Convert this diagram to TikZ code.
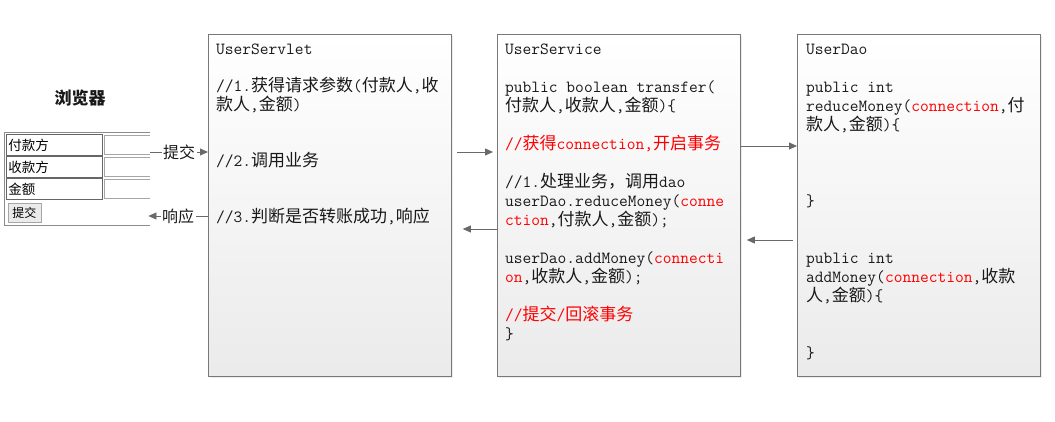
\documentclass[tikz,border=0pt]{standalone}
\usepackage{fontspec}
\usepackage{tikz}
\usetikzlibrary{arrows.meta,shadows}

\newfontfamily\cjk{Noto Sans CJK SC}
\newcommand\zh[1]{{\cjk #1}}
\newcommand\tightlines{\setlength{\lineskiplimit}{-30pt}}

\definecolor{boxline}{RGB}{120,120,120}
\definecolor{arrowgray}{RGB}{105,105,105}
\definecolor{txt}{RGB}{25,25,25}
\definecolor{codered}{RGB}{255,0,0}

\tikzset{
  box/.style={draw=boxline, line width=0.8pt, top color=white, bottom color=black!8,
    anchor=north west, minimum width=243pt, minimum height=342pt, inner sep=0pt,
    drop shadow={shadow xshift=2pt, shadow yshift=-2pt, opacity=0.25, fill=black!30}},
  code/.style={anchor=north west, align=left, inner sep=0pt, text=txt,
    font=\fontsize{17}{19}\selectfont\ttfamily\tightlines},
  flow/.style={draw=arrowgray, line width=0.8pt, -{Triangle[length=8pt,width=7pt]}},
  flowlabel/.style={fill=white, inner xsep=1.5pt, inner ysep=0pt, text=txt,
    font=\fontsize{16}{18}\selectfont\cjk},
  cell/.style={draw=black!60, line width=0.6pt, anchor=north west, text width=92pt,
    align=left, inner xsep=2pt, minimum height=21pt, text=black,
    font=\fontsize{13.5}{15}\selectfont\cjk},
  input/.style={draw=black!35, line width=0.8pt, fill=white},
  button/.style={draw=black!35, fill=black!8, line width=0.6pt, minimum width=33pt,
    minimum height=19pt, inner sep=0pt, text=black, font=\fontsize{12}{14}\selectfont\cjk}
}
\newcommand\red[1]{\textcolor{codered}{#1}}

\begin{document}
\begin{tikzpicture}[x=1pt,y=-1pt]
\useasboundingbox (0,0) rectangle (1055,422);

% browser form
\node [text=txt, font=\fontsize{17}{20}\selectfont\cjk\bfseries] (title) at (80,98) {浏览器};
\node [anchor=north west, minimum width=146pt, minimum height=92pt, inner sep=0pt] (form) at (4,133) {};
\draw [black!45, line width=1pt] (form.north east) -- (form.north west) -- (form.south west) -- (form.south east);
\node [cell] (payer) at (6,134.5) {付款方};
\node [cell] (payee) at (6,156.5) {收款方};
\node [cell] (amount) at (6,178.5) {金额};
\filldraw [input] (150,135.5) -| (104.5,154.5) -- (150,154.5);
\filldraw [input] (150,157.5) -| (104.5,176.5) -- (150,176.5);
\filldraw [input] (150,179.5) -| (104.5,198.5) -- (150,198.5);
\node [button] (submit) at (24.5,212.5) {提交};

% the three layers
\node [box] (servlet) at (208,34) {};
\node [box] (service) at (497,34) {};
\node [box] (dao) at (797,34) {};

\node [code, font=\fontsize{17}{18.7}\selectfont\ttfamily\tightlines] (servlettext) at (216,43.5) {UserServlet\\ \mbox{}\\
//1.\zh{获得请求参数}(\zh{付款人},\zh{收}\\ \zh{款人},\zh{金额})\\ \mbox{}\\ \mbox{}\\
//2.\zh{调用业务}\\ \mbox{}\\ \mbox{}\\
//3.\zh{判断是否转账成功},\zh{响应}};

\node [code] (servicetext) at (505,43.5) {UserService\\ \mbox{}\\
public boolean transfer(\\ \zh{付款人},\zh{收款人},\zh{金额})\{\\ \mbox{}\\
\red{//\zh{获得}connection,\zh{开启事务}}\\ \mbox{}\\
//1.\zh{处理业务，调用}dao\\
userDao.reduceMoney(\red{conne}\\ \red{ction},\zh{付款人},\zh{金额});\\ \mbox{}\\
userDao.addMoney(\red{connecti}\\ \red{on},\zh{收款人},\zh{金额});\\ \mbox{}\\
\red{//\zh{提交}/\zh{回滚事务}}\\ \}};

\node [code] (daotext) at (806,43.5) {UserDao\\ \mbox{}\\
public int\\ reduceMoney(\red{connection},\zh{付}\\ \zh{款人},\zh{金额})\{\\
\mbox{}\\ \mbox{}\\ \mbox{}\\ \}\\ \mbox{}\\ \mbox{}\\
public int\\ addMoney(\red{connection},\zh{收款}\\ \zh{人},\zh{金额})\{\\
\mbox{}\\ \mbox{}\\ \}};

% requests and answers
\draw [flow] (form.east |- 0,152) -- node [flowlabel] (send) {提交} (servlet.west |- 0,152);
\draw [flow] (servlet.west |- 0,216) -- node [flowlabel] (reply) {响应} ([xshift=-2pt]form.east |- 0,216);
\draw [flow] ([xshift=5pt]servlet.east |- 0,152) -- ([xshift=-4pt]service.west |- 0,152);
\draw [flow] (service.west |- 0,229) -- ([xshift=11pt]servlet.east |- 0,229);
\draw [flow] (service.east |- 0,146) -- (dao.west |- 0,146);
\draw [flow] ([xshift=-4pt]dao.west |- 0,240) -- ([xshift=6pt]service.east |- 0,240);
\end{tikzpicture}
\end{document}
